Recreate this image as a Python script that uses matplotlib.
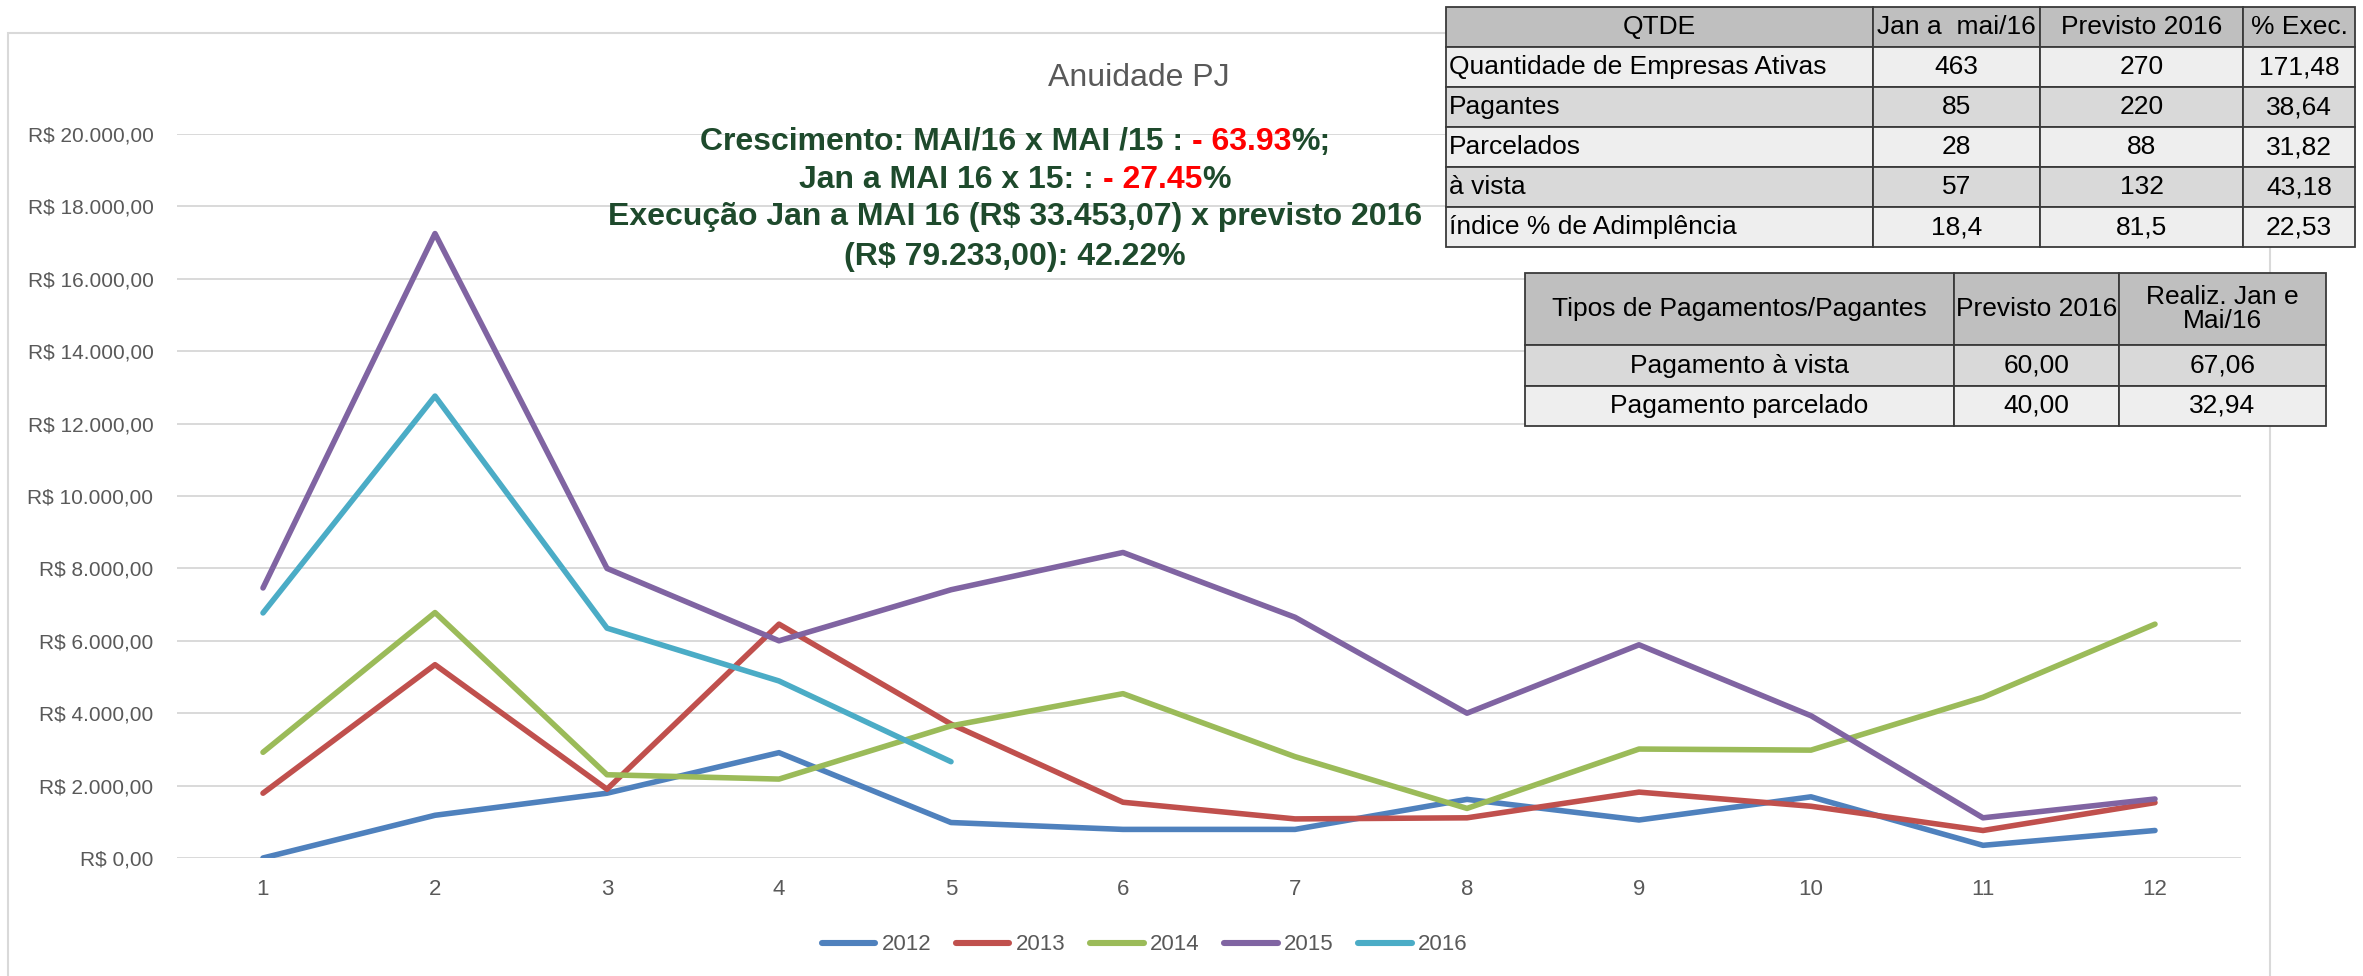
import matplotlib
matplotlib.use('Agg')
import matplotlib.pyplot as plt
from matplotlib.patches import Rectangle
from matplotlib.lines import Line2D

W, H = 2363, 976
DPI = 100

# dados do grafico
meses = list(range(1, 13))
anos = ['2012', '2013', '2014', '2015', '2016']
v2012 = [0, 1180, 1790, 2910, 980, 790, 790, 1620, 1050, 1690, 350, 760]
v2013 = [1790, 5340, 1900, 6460, 3700, 1540, 1080, 1110, 1820, 1430, 760, 1530]
v2014 = [2920, 6780, 2300, 2180, 3650, 4540, 2800, 1370, 3010, 2980, 4440, 6460]
v2015 = [7460, 17250, 8000, 6000, 7410, 8440, 6650, 4000, 5890, 3930, 1110, 1630]
v2016 = [6770, 12760, 6350, 4890, 2660]
cores = ['#4f81bd', '#c0504d', '#9bbb59', '#8064a2', '#4bacc6']
yticks = list(range(0, 20001, 2000))

# tabela 1
t1_header = ['QTDE', 'Jan a  mai/16', 'Previsto 2016', '% Exec.']
t1_rotulos = ['Quantidade de Empresas Ativas', 'Pagantes', 'Parcelados', 'à vista',
              'índice % de Adimplência']
t1_jan_mai = ['463', '85', '28', '57', '18,4']
t1_previsto = ['270', '220', '88', '132', '81,5']
t1_exec = ['171,48', '38,64', '31,82', '43,18', '22,53']

# tabela 2
t2_header = ['Tipos de Pagamentos/Pagantes', 'Previsto 2016', 'Realiz. Jan e\nMai/16']
t2_rotulos = ['Pagamento à vista', 'Pagamento parcelado']
t2_previsto = ['60,00', '40,00']
t2_realiz = ['67,06', '32,94']

VERDE = '#1e4a2c'
VERMELHO = '#ff0000'
CINZA = '#595959'
FONTE = 'Liberation Sans'

plt.rcParams['font.family'] = [FONTE, 'DejaVu Sans']

fig = plt.figure(figsize=(W / DPI, H / DPI), dpi=DPI)
fig.patch.set_facecolor('white')


def fx(x):
    return x / W


def fy(y):
    return 1 - y / H


# moldura da area do grafico
fig.add_artist(Rectangle((fx(8), fy(990)), fx(2270 - 8), (990 - 33) / H,
                         transform=fig.transFigure, fill=False,
                         edgecolor='#d9d9d9', lw=1.5, zorder=0.5))

ax = fig.add_axes([fx(177), fy(858), fx(2241 - 177), (858 - 134) / H])
ax.set_facecolor('none')
series = [v2012, v2013, v2014, v2015, v2016]
for ano, vals, cor in zip(anos, series, cores):
    ax.plot(meses[:len(vals)], vals, color=cor, lw=4, label=ano,
            solid_capstyle='round', solid_joinstyle='round', zorder=3)

ax.set_xlim(0.5, 12.5)
ax.set_ylim(0, 20000)
ax.set_xticks(meses)
ax.set_yticks(yticks)
ax.set_yticklabels(['R$ ' + f'{v:,.2f}'.replace(',', 'X').replace('.', ',').replace('X', '.')
                    for v in yticks])
ax.yaxis.grid(True, color='#d9d9d9', lw=1.4)
ax.set_axisbelow(True)
for s in ax.spines.values():
    s.set_visible(False)
ax.tick_params(axis='y', length=0, pad=17, labelsize=15, labelcolor=CINZA)
ax.tick_params(axis='x', length=0, pad=15, labelsize=16, labelcolor=CINZA)

handles = [Line2D([], [], color=c, lw=4.4, solid_capstyle='round') for c in cores]
leg = fig.legend(handles, anos, loc='center', bbox_to_anchor=(fx(1145), fy(945)),
                 ncol=5, frameon=False, handlelength=2.4, handletextpad=0.3,
                 columnspacing=1.1, labelcolor=CINZA, fontsize=16)

fig.text(fx(1139), fy(78), 'Anuidade PJ', ha='center', va='center',
         color=CINZA, fontsize=23)

# texto verde / vermelho
renderer = fig.canvas.get_renderer()


def largura(s, **kw):
    t = fig.text(0, 0, s, **kw)
    w = t.get_window_extent(renderer).width
    t.remove()
    return w


def linha_colorida(cx, cy, partes, **kw):
    total = largura(''.join(p for p, _ in partes) + '|', **kw) - largura('|', **kw)
    x0 = cx - total / 2
    prefixo = ''
    for s, c in partes:
        off = largura(prefixo + '|', **kw) - largura('|', **kw) if prefixo else 0
        fig.text(fx(x0 + off), fy(cy), s, color=c, ha='left', va='center', zorder=6, **kw)
        prefixo += s


fonte_verde = dict(fontweight='bold', fontsize=23)
linha_colorida(1015, 142, [('Crescimento: MAI/16 x MAI /15 : ', VERDE), ('- 63.93', VERMELHO),
                           ('%;', VERDE)], **fonte_verde)
linha_colorida(1015, 180, [('Jan a MAI 16 x 15: : ', VERDE), ('- 27.45', VERMELHO),
                           ('%', VERDE)], **fonte_verde)
linha_colorida(1015, 217, [('Execução Jan a MAI 16 (R$ 33.453,07) x previsto 2016', VERDE)],
               **fonte_verde)
linha_colorida(1015, 257, [('(R$ 79.233,00): 42.22%', VERDE)], **fonte_verde)


# tabelas
def celula(x0, y0, x1, y1, cor):
    fig.add_artist(Rectangle((fx(x0), fy(y1)), fx(x1 - x0), (y1 - y0) / H,
                             transform=fig.transFigure, facecolor=cor,
                             edgecolor='#3a3a3a', lw=1.3, zorder=5))


def texto(x, y, s, ha='center', size=19):
    fig.text(fx(x), fy(y), s, ha=ha, va='center', fontsize=size,
             color='black', zorder=6, linespacing=1.05)


col1 = [1446, 1873, 2040, 2243, 2355]
lin1 = [7, 47, 87, 127, 167, 207, 247]
cores_lin1 = ['#bfbfbf', '#eeeeee', '#d9d9d9', '#eeeeee', '#d9d9d9', '#eeeeee']
colunas1 = [t1_rotulos, t1_jan_mai, t1_previsto, t1_exec]
for i in range(6):
    for j in range(4):
        celula(col1[j], lin1[i], col1[j + 1], lin1[i + 1], cores_lin1[i])
        yc = (lin1[i] + lin1[i + 1]) / 2
        if i == 0:
            texto((col1[j] + col1[j + 1]) / 2, yc, t1_header[j])
        elif j == 0:
            texto(col1[0] + 3, yc, colunas1[0][i - 1], ha='left')
        else:
            texto((col1[j] + col1[j + 1]) / 2, yc, colunas1[j][i - 1])

col2 = [1525, 1954, 2119, 2326]
lin2 = [273, 345, 386, 426]
cores_lin2 = ['#bfbfbf', '#d9d9d9', '#eeeeee']
colunas2 = [t2_rotulos, t2_previsto, t2_realiz]
for i in range(3):
    for j in range(3):
        celula(col2[j], lin2[i], col2[j + 1], lin2[i + 1], cores_lin2[i])
        yc = (lin2[i] + lin2[i + 1]) / 2
        s = t2_header[j] if i == 0 else colunas2[j][i - 1]
        texto((col2[j] + col2[j + 1]) / 2, yc, s)

fig.savefig('out.png', dpi=DPI)
